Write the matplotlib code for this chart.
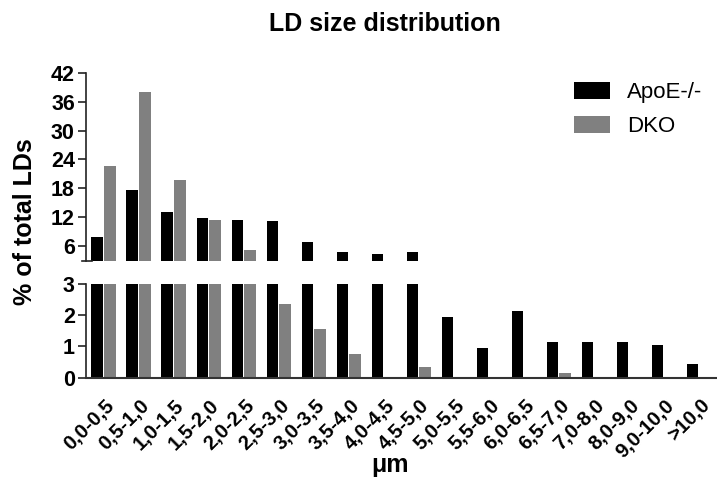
import matplotlib
matplotlib.use("Agg")
import matplotlib.pyplot as plt
import matplotlib.transforms as mtransforms
import numpy as np

plt.rcParams['font.family'] = ['Liberation Sans', 'DejaVu Sans']

categories = ["0,0-0,5", "0,5-1,0", "1,0-1,5", "1,5-2,0", "2,0-2,5", "2,5-3,0",
              "3,0-3,5", "3,5-4,0", "4,0-4,5", "4,5-5,0", "5,0-5,5", "5,5-6,0",
              "6,0-6,5", "6,5-7,0", "7,0-8,0", "8,0-9,0", "9,0-10,0", ">10,0"]
apoe = [7.9, 17.6, 13.0, 11.9, 11.4, 11.2, 6.8, 4.8, 4.3, 4.8, 1.94, 0.94,
        2.15, 1.13, 1.13, 1.13, 1.04, 0.43]
dko = [22.6, 37.9, 19.8, 11.4, 5.3, 2.35, 1.55, 0.75, 0.0, 0.33, 0.0, 0.0,
       0.0, 0.14, 0.0, 0.0, 0.0, 0.0]
upper_ticks = [6, 12, 18, 24, 30, 36, 42]
lower_ticks = [0, 1, 2, 3]

W, H = 717, 482
fig = plt.figure(figsize=(W / 100, H / 100), dpi=100)

left = 86 / W
right = 716.5 / W
ax_top = fig.add_axes([left, 1 - 260.7 / H, right - left, (260.7 - 72.7) / H])
ax_bot = fig.add_axes([left, 1 - 377.7 / H, right - left, (377.7 - 284) / H])

x = np.arange(len(categories))
bw = 0.33
off = 0.18
for ax in (ax_top, ax_bot):
    ax.bar(x - off, apoe, width=bw, color='black', label='ApoE-/-')
    ax.bar(x + off, dko, width=bw, color='#808080', label='DKO')
    ax.set_xlim(-0.5, len(categories) - 0.5)
    for s in ('top', 'right'):
        ax.spines[s].set_visible(False)
    ax.spines['left'].set_linewidth(1.2)
    ax.spines['left'].set_color('#222222')
    ax.tick_params(axis='y', direction='out', length=6, width=1.2,
                   pad=2, color='#222222')

ax_top.set_ylim(3, 42)
ax_top.set_yticks(upper_ticks)
ax_top.set_yticklabels([str(t) for t in upper_ticks], fontweight='bold', fontsize=15.5)
ax_top.spines['bottom'].set_visible(False)
ax_top.set_xticks([])
# short break mark at the bottom of the upper segment
ax_top.plot([-0.006, 0.009], [3, 3], transform=ax_top.get_yaxis_transform(),
            color='#222222', lw=1.2, clip_on=False)

ax_bot.set_ylim(0, 3)
ax_bot.set_yticks(lower_ticks)
ax_bot.set_yticklabels([str(t) for t in lower_ticks], fontweight='bold', fontsize=15.5)
ax_bot.spines['bottom'].set_linewidth(1.5)
ax_bot.spines['bottom'].set_color('#333333')
ax_bot.set_xticks(x)
ax_bot.set_xticklabels(categories, rotation=45, ha='right', rotation_mode='anchor',
                       fontweight='bold', fontsize=14.5)
ax_bot.tick_params(axis='x', length=0, pad=13)
shift = mtransforms.ScaledTranslation(1 / 100, 0, fig.dpi_scale_trans)
for lab in ax_bot.get_xticklabels():
    lab.set_transform(lab.get_transform() + shift)

fig.text(385 / W, 1 - 31 / H, "LD size distribution", ha='center', va='baseline',
         fontsize=18, fontweight='bold')
fig.text(25 / W, 1 - 222 / H, "% of total LDs", ha='center', va='center',
         rotation=90, fontsize=18, fontweight='bold')
fig.text(390 / W, 1 - 465 / H, "μm", ha='center', va='center',
         fontsize=18, fontweight='bold')

handles, labels = ax_top.get_legend_handles_labels()
fig.legend(handles, labels, loc='upper left', bbox_to_anchor=(574 / W, 1 - 82 / H),
           frameon=False, fontsize=16, handlelength=1.62, handleheight=0.77,
           handletextpad=0.77, labelspacing=0.6, borderpad=0, borderaxespad=0)

fig.savefig('out.png', dpi=100)
